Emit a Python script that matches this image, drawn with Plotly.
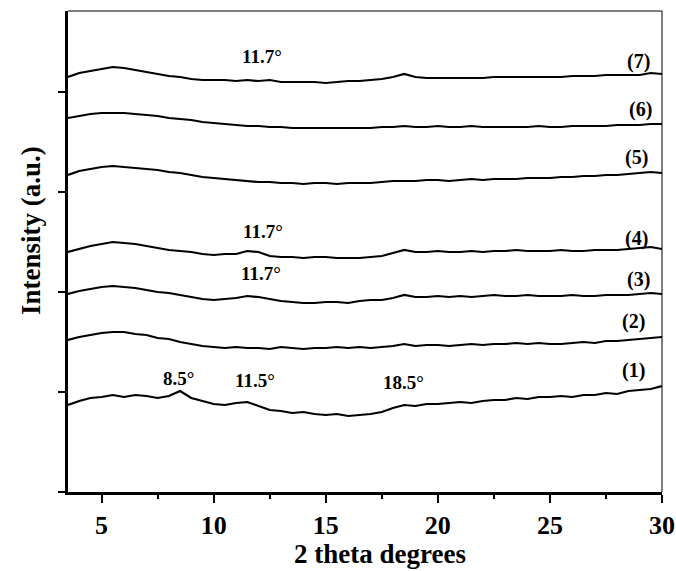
import plotly.graph_objects as go

# XRD patterns, 2-theta grid 3.5..30 step 0.5 (offset stacked)
t1 = [0.87,0.91,0.94,0.95,0.97,0.95,0.97,0.96,0.94,0.96,1.01,0.94,0.91,0.88,0.87,0.89,0.90,0.86,0.82,0.81,0.79,0.80,0.78,0.77,0.78,0.76,0.77,0.78,0.80,0.84,0.87,0.86,0.88,0.88,0.89,0.90,0.89,0.91,0.92,0.92,0.94,0.93,0.95,0.95,0.96,0.95,0.97,0.97,0.99,0.98,1.01,1.02,1.03,1.06]
t2 = [1.52,1.55,1.57,1.59,1.60,1.60,1.58,1.57,1.54,1.53,1.50,1.48,1.46,1.45,1.44,1.45,1.44,1.44,1.43,1.45,1.44,1.43,1.44,1.44,1.45,1.44,1.45,1.44,1.45,1.46,1.48,1.46,1.47,1.47,1.46,1.47,1.48,1.47,1.48,1.48,1.49,1.48,1.49,1.48,1.48,1.49,1.50,1.49,1.51,1.51,1.52,1.53,1.54,1.55]
t3 = [1.98,2.01,2.03,2.05,2.06,2.05,2.04,2.02,2.00,1.99,1.97,1.95,1.93,1.92,1.93,1.94,1.96,1.95,1.93,1.91,1.90,1.89,1.89,1.90,1.90,1.89,1.91,1.92,1.92,1.94,1.97,1.95,1.95,1.96,1.95,1.96,1.95,1.96,1.97,1.96,1.96,1.97,1.96,1.96,1.96,1.97,1.96,1.96,1.97,1.97,1.97,1.98,1.99,1.98]
t4 = [2.40,2.43,2.46,2.48,2.50,2.49,2.48,2.46,2.44,2.42,2.41,2.40,2.38,2.37,2.38,2.38,2.41,2.40,2.36,2.35,2.35,2.34,2.35,2.35,2.34,2.34,2.34,2.35,2.36,2.39,2.42,2.40,2.40,2.41,2.40,2.40,2.41,2.40,2.41,2.41,2.42,2.41,2.41,2.41,2.42,2.41,2.41,2.42,2.42,2.42,2.43,2.44,2.45,2.43]
t5 = [3.17,3.21,3.23,3.25,3.26,3.25,3.24,3.23,3.22,3.20,3.19,3.17,3.15,3.14,3.13,3.12,3.11,3.10,3.10,3.09,3.09,3.08,3.09,3.09,3.08,3.09,3.09,3.09,3.10,3.11,3.11,3.11,3.12,3.12,3.11,3.12,3.13,3.12,3.13,3.13,3.13,3.14,3.14,3.14,3.15,3.15,3.16,3.16,3.17,3.17,3.18,3.19,3.20,3.19]
t6 = [3.74,3.76,3.78,3.79,3.79,3.79,3.78,3.77,3.76,3.74,3.73,3.72,3.70,3.69,3.68,3.67,3.66,3.66,3.65,3.65,3.64,3.64,3.64,3.64,3.64,3.64,3.64,3.64,3.65,3.65,3.66,3.65,3.65,3.66,3.65,3.65,3.66,3.65,3.65,3.65,3.65,3.65,3.66,3.65,3.65,3.66,3.66,3.66,3.66,3.67,3.67,3.67,3.68,3.68]
t7 = [4.15,4.19,4.21,4.23,4.25,4.24,4.22,4.20,4.18,4.16,4.15,4.13,4.12,4.12,4.12,4.11,4.12,4.11,4.12,4.10,4.10,4.10,4.10,4.09,4.10,4.11,4.11,4.12,4.13,4.15,4.18,4.15,4.14,4.14,4.14,4.14,4.14,4.14,4.15,4.15,4.15,4.15,4.15,4.15,4.15,4.16,4.16,4.16,4.17,4.17,4.17,4.17,4.19,4.18]

series = [t1, t2, t3, t4, t5, t6, t7]
series_labels = ["(1)", "(2)", "(3)", "(4)", "(5)", "(6)", "(7)"]
label_x = [28.71, 28.71, 28.93, 28.88, 28.88, 29.02, 28.93]
label_y = [1.22, 1.71, 2.13, 2.54, 3.35, 3.83, 4.31]

peak_texts = ["8.5°", "11.5°", "18.5°", "11.7°", "11.7°", "11.7°"]
peak_x = [8.45, 11.84, 18.45, 12.1, 12.2, 12.15]
peak_y = [1.14, 1.12, 1.10, 2.19, 2.61, 4.36]

x_ticks = [5, 10, 15, 20, 25, 30]

FONT = "Liberation Serif"

fig = go.Figure()
for s in series:
    xs = [3.5 + 0.5 * i for i in range(len(s))]
    fig.add_trace(go.Scatter(x=xs, y=s, mode="lines",
                             line=dict(color="black", width=2.2),
                             showlegend=False, hoverinfo="skip"))

ann = []
for t, x, y in zip(series_labels, label_x, label_y):
    ann.append(dict(x=x, y=y, text=t, showarrow=False, xref="x", yref="y",
                    font=dict(family=FONT, size=20, color="black", weight="bold")))
for t, x, y in zip(peak_texts, peak_x, peak_y):
    ann.append(dict(x=x, y=y, text=t, showarrow=False, xref="x", yref="y",
                    font=dict(family=FONT, size=19, color="black", weight="bold")))
ann.append(dict(x=0.525, y=-0.164, xref="paper", yref="paper", text="2 theta degrees",
                showarrow=False, yanchor="bottom",
                font=dict(family=FONT, size=27, color="black", weight="bold")))
ann.append(dict(x=-0.062, y=0.543, xref="paper", yref="paper", text="Intensity (a.u.)",
                showarrow=False, textangle=-90, xanchor="center", yanchor="middle",
                font=dict(family=FONT, size=27, color="black", weight="bold")))

fig.update_layout(
    width=676, height=571,
    margin=dict(l=68, r=14, t=11, b=79, autoexpand=False),
    plot_bgcolor="white", paper_bgcolor="white",
    annotations=ann,
    shapes=[
        dict(type="line", xref="paper", yref="paper", x0=0, x1=1, y0=1, y1=1,
             line=dict(color="black", width=1)),
        dict(type="line", xref="paper", yref="paper", x0=1, x1=1, y0=0, y1=1,
             line=dict(color="black", width=1)),
    ],
)
fig.update_xaxes(range=[3.5, 30], tickvals=x_ticks, ticktext=[str(v) for v in x_ticks],
                 automargin=False,
                 showline=True, linecolor="black", linewidth=2.5,
                 ticks="outside", ticklen=8, tickwidth=2, tickcolor="black",
                 minor=dict(tickvals=[7.5, 12.5, 17.5, 22.5, 27.5], ticks="outside",
                            ticklen=4, tickwidth=2, tickcolor="black"),
                 showgrid=False, zeroline=False,
                 tickfont=dict(family=FONT, size=26, color="black", weight="bold"))
fig.update_yaxes(range=[0, 4.81], tickvals=[0, 1, 2, 3, 4], showticklabels=False,
                 automargin=False,
                 showline=True, linecolor="black", linewidth=2.5,
                 ticks="outside", ticklen=7, tickwidth=2, tickcolor="black",
                 showgrid=False, zeroline=False)

fig.write_html("out.html")
